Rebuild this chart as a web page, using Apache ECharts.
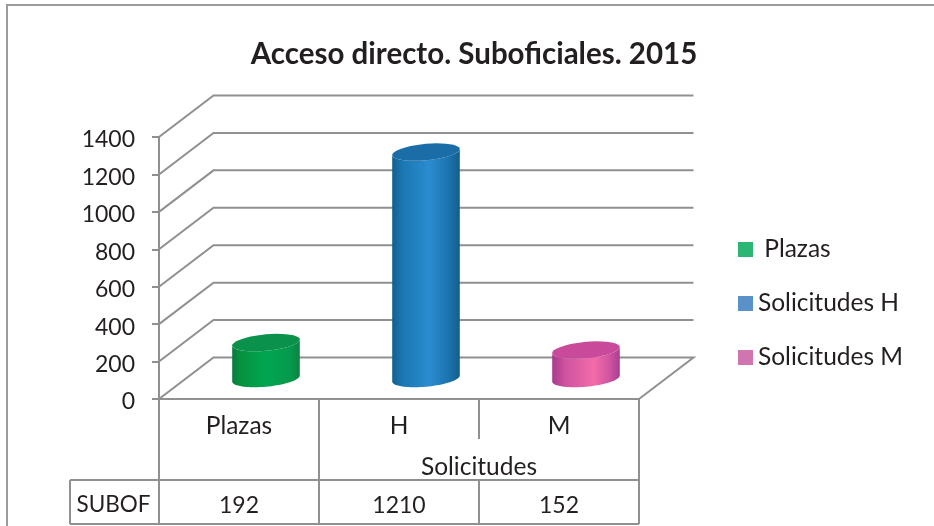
<!DOCTYPE html>
<html>
<head>
<meta charset="utf-8">
<style>html,body{margin:0;padding:0;background:#fff}#c{width:934px;height:526px}</style>
<script src="https://cdn.jsdelivr.net/npm/echarts@6/dist/echarts.min.js"></script>
</head>
<body>
<div id="c"></div>
<script>
const categories = ['Plazas', 'H', 'M'];
const groupLabel = 'Solicitudes';
const rowLabel = 'SUBOF';
const subof = [192, 1210, 152];
const seriesNames = [' Plazas', 'Solicitudes H', 'Solicitudes M'];
const titleText = 'Acceso directo. Suboficiales. 2015';
const yTicks = [0, 200, 400, 600, 800, 1000, 1200, 1400];

const legendColors = ['#2bb673', '#5b91c9', '#d075b0'];
const sideStops = [
  [[0, '#067a3e'], [0.12, '#08913f'], [0.5, '#00a651'], [0.85, '#069a4c'], [1, '#0b8446']],
  [[0, '#125f8f'], [0.15, '#1b77b2'], [0.55, '#2a8ccf'], [0.85, '#1b72ab'], [1, '#145e8a']],
  [[0, '#a83a8c'], [0.2, '#cf53a0'], [0.62, '#f26ca9'], [0.85, '#cf54a0'], [1, '#a93e90']]
];
const topColors = ['#0a924d', '#1a6da6', '#c94a9b'];
const lineColor = '#8f9092';
const textColor = '#231f20';
const wordFont = '24.5px Lato';
const numberFont = '23px Lato';

const DX = 54.5, DY = -41.5, MX = 27, MY = -20.5, RX = 33.8, RY = 8.2, SHEAR = 3;

function line(pts) {
  return { type: 'polyline', silent: true, shape: { points: pts },
    style: { stroke: lineColor, lineWidth: 2, fill: null } };
}
function label(text, x, y, font) {
  return { type: 'text', silent: true, style: { text, x, y, fill: textColor, font,
    align: 'center', verticalAlign: 'middle' } };
}
function arc(cx, cy, from, to) {
  const out = [];
  for (let i = 0; i <= 40; i++) {
    const t = from + (to - from) * i / 40;
    out.push([cx + RX * Math.cos(t), cy + RY * Math.sin(t) - SHEAR * Math.cos(t)]);
  }
  return out;
}
function renderWall(params, api) {
  const a = api.coord([0, api.value(0)]);
  const left = a[0] - api.size([1, 0])[0] / 2;
  const right = left + api.size([1, 0])[0] * categories.length;
  const pts = [[left, a[1]], [left + DX, a[1] + DY], [right + DX, a[1] + DY]];
  if (api.value(0) === 0) pts.push([right, a[1]]);
  return line(pts);
}
function renderTable(params, api) {
  const band = api.size([1, 0])[0];
  const o = api.coord([0, 0]);
  const left = o[0] - band / 2, base = o[1];
  const xs = categories.map((c, i) => left + band * i);
  xs.push(left + band * categories.length);
  const rowTop = 480, rowBottom = 524, tableLeft = 70, catBottom = 439;
  const ch = [
    line([[tableLeft, rowTop], [xs[3], rowTop]]),
    line([[tableLeft, rowBottom], [xs[3], rowBottom]]),
    line([[tableLeft, rowTop], [tableLeft, rowBottom]]),
    line([[xs[0], base], [xs[0], rowBottom]]),
    line([[xs[1], base], [xs[1], rowBottom]]),
    line([[xs[2], base], [xs[2], catBottom]]),
    line([[xs[2], rowTop], [xs[2], rowBottom]]),
    line([[xs[3], base], [xs[3], rowBottom]]),
    label(groupLabel, xs[2], 467, wordFont),
    label(rowLabel, (tableLeft + xs[0]) / 2 - 1, 505, '22.5px Lato')
  ];
  subof.forEach((v, i) => ch.push(label(String(v), xs[i] + band / 2, 505.5, numberFont)));
  return { type: 'group', children: ch };
}
function renderCylinder(idx) {
  return function (params, api) {
    const base = api.coord([api.value(0), 0]);
    const top = api.coord([api.value(0), api.value(1)]);
    const cx = base[0] + MX, by = base[1] + MY, ty = top[1] + MY;
    const side = arc(cx, by, Math.PI, 0).concat(arc(cx, ty, 0, Math.PI));
    return { type: 'group', children: [
      { type: 'polygon', silent: true, shape: { points: side },
        style: { fill: new echarts.graphic.LinearGradient(0, 0, 1, 0,
          sideStops[idx].map(s => ({ offset: s[0], color: s[1] }))) } },
      { type: 'polygon', silent: true, shape: { points: arc(cx, ty, 0, Math.PI * 2) },
        style: { fill: topColors[idx] } }
    ] };
  };
}

const chart = echarts.init(document.getElementById('c'), null, { renderer: 'canvas' });
chart.setOption({
  animation: false,
  backgroundColor: '#fff',
  title: { text: titleText, left: 469, top: 34, textAlign: 'center',
    textStyle: { fontFamily: 'Lato', fontWeight: 'bold', fontSize: 29.5, color: textColor } },
  grid: { left: 159, top: 137, width: 480, height: 262 },
  legend: {
    left: 738, top: 237, padding: 0, orient: 'vertical', icon: 'rect', itemWidth: 15, itemHeight: 15,
    itemGap: 29, selectedMode: false, data: seriesNames,
    textStyle: { fontFamily: 'Lato', fontSize: 24.5, color: textColor }
  },
  xAxis: {
    type: 'category', data: categories,
    axisLine: { lineStyle: { color: lineColor, width: 2 } },
    axisTick: { show: false },
    axisLabel: { fontFamily: 'Lato', fontSize: 24.5, color: textColor, margin: 15 }
  },
  yAxis: {
    type: 'value', min: 0, max: 1400, interval: 200,
    axisLine: { show: true, lineStyle: { color: lineColor, width: 2 } },
    axisTick: { show: true, length: 7, lineStyle: { color: lineColor, width: 2 } },
    axisLabel: { fontFamily: 'Lato', fontSize: 23, color: textColor, margin: 24,
      verticalAlign: 'top', lineHeight: 6, formatter: v => String(v) },
    splitLine: { show: false }
  },
  graphic: [
    { type: 'polyline', silent: true, shape: { points: [[7, 526], [7, 5], [934, 5]] },
      style: { stroke: '#9a9b9d', lineWidth: 2, fill: null } }
  ],
  series: [
    { type: 'custom', name: 'wall', z: 1, data: yTicks.map(v => [v]), encode: { y: 0 },
      renderItem: renderWall, silent: true },
    { type: 'custom', name: 'table', z: 1, data: [[0]], encode: { y: 0 },
      renderItem: renderTable, silent: true }
  ].concat(seriesNames.map((n, i) => ({
    type: 'custom', name: n, z: 3, silent: true,
    itemStyle: { color: legendColors[i] },
    data: [[categories[i], subof[i]]], encode: { x: 0, y: 1 },
    renderItem: renderCylinder(i)
  })))
});
</script>
</body>
</html>
